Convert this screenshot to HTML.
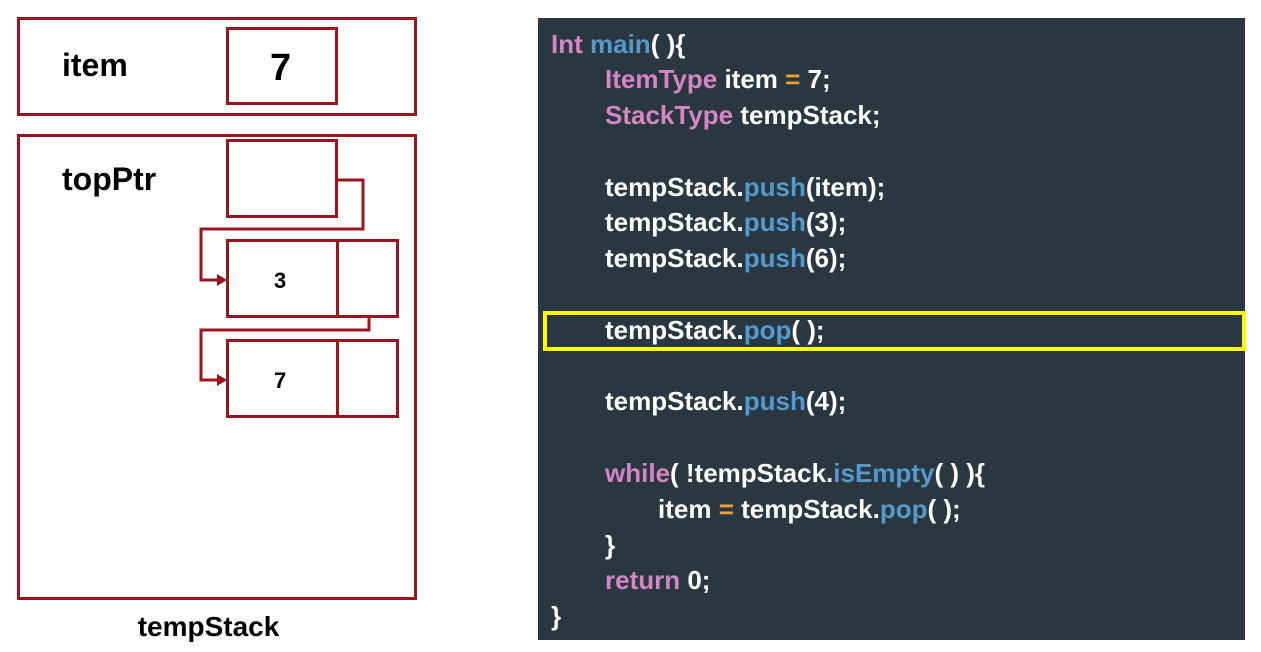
<!DOCTYPE html>
<html><head><style>
body{margin:0;width:1261px;height:652px;background:#fff;position:relative;overflow:hidden;font-family:"Liberation Sans",sans-serif;font-weight:bold}
.b{position:absolute;border:3px solid #9b1520;box-sizing:border-box}
.t{position:absolute;color:#000}
#code{position:absolute;left:538px;top:18px;width:707px;height:622px;background:#2a3740}
.l{position:absolute;color:#fff;font-size:26px;white-space:pre;line-height:30px}
.p{color:#d486c4}.u{color:#559acd}.o{color:#f0a030}
</style></head><body>
<div class="b" style="left:17px;top:17px;width:400px;height:99px"></div>
<div class="b" style="left:226px;top:27px;width:112px;height:78px"></div>
<div class="t" style="left:62px;top:47px;font-size:32px">item</div>
<div class="t" style="left:270px;top:47px;font-size:38px">7</div>
<div class="b" style="left:17px;top:134px;width:400px;height:466px"></div>
<div class="t" style="left:62px;top:161px;font-size:32px">topPtr</div>
<div class="b" style="left:226px;top:139px;width:112px;height:79px"></div>
<div class="b" style="left:226px;top:239px;width:173px;height:79px"></div>
<div class="b" style="left:226px;top:339px;width:173px;height:79px"></div>
<div style="position:absolute;left:336px;top:239px;width:3px;height:79px;background:#9b1520"></div>
<div style="position:absolute;left:336px;top:339px;width:3px;height:79px;background:#9b1520"></div>
<div class="t" style="left:274px;top:268px;font-size:22px">3</div>
<div class="t" style="left:274px;top:368px;font-size:22px">7</div>
<svg style="position:absolute;left:0;top:0" width="430" height="430">
<polyline points="337,180 363,180 363,229 201,229 201,280 220,280" fill="none" stroke="#9b1520" stroke-width="3"/>
<polygon points="227,280 217,274 217,286" fill="#9b1520"/>
<polyline points="369,318 369,330 201,330 201,380 220,380" fill="none" stroke="#9b1520" stroke-width="3"/>
<polygon points="227,380 217,374 217,386" fill="#9b1520"/>
</svg>
<div class="t" style="left:0;width:417px;text-align:center;top:611px;font-size:28px">tempStack</div>
<div id="code"></div>
<div class="l" style="left:551px;top:29px"><span class="p">Int</span> <span class="u">main</span>( ){</div>
<div class="l" style="left:605px;top:64px"><span class="p">ItemType</span> item <span class="o">=</span> 7;</div>
<div class="l" style="left:605px;top:100px"><span class="p">StackType</span> tempStack;</div>
<div class="l" style="left:605px;top:172px">tempStack.<span class="u">push</span>(item);</div>
<div class="l" style="left:605px;top:207px">tempStack.<span class="u">push</span>(3);</div>
<div class="l" style="left:605px;top:243px">tempStack.<span class="u">push</span>(6);</div>
<div class="l" style="left:605px;top:315px">tempStack.<span class="u">pop</span>( );</div>
<div class="l" style="left:605px;top:386px">tempStack.<span class="u">push</span>(4);</div>
<div class="l" style="left:605px;top:458px"><span class="p">while</span>( !tempStack.<span class="u">isEmpty</span>( ) ){</div>
<div class="l" style="left:658px;top:494px">item <span class="o">=</span> tempStack.<span class="u">pop</span>( );</div>
<div class="l" style="left:605px;top:530px">}</div>
<div class="l" style="left:605px;top:565px"><span class="p">return</span> 0;</div>
<div class="l" style="left:551px;top:601px">}</div>
<div style="position:absolute;left:543px;top:311px;width:703px;height:40px;border:4px solid #ffff00;box-sizing:border-box"></div>
</body></html>
